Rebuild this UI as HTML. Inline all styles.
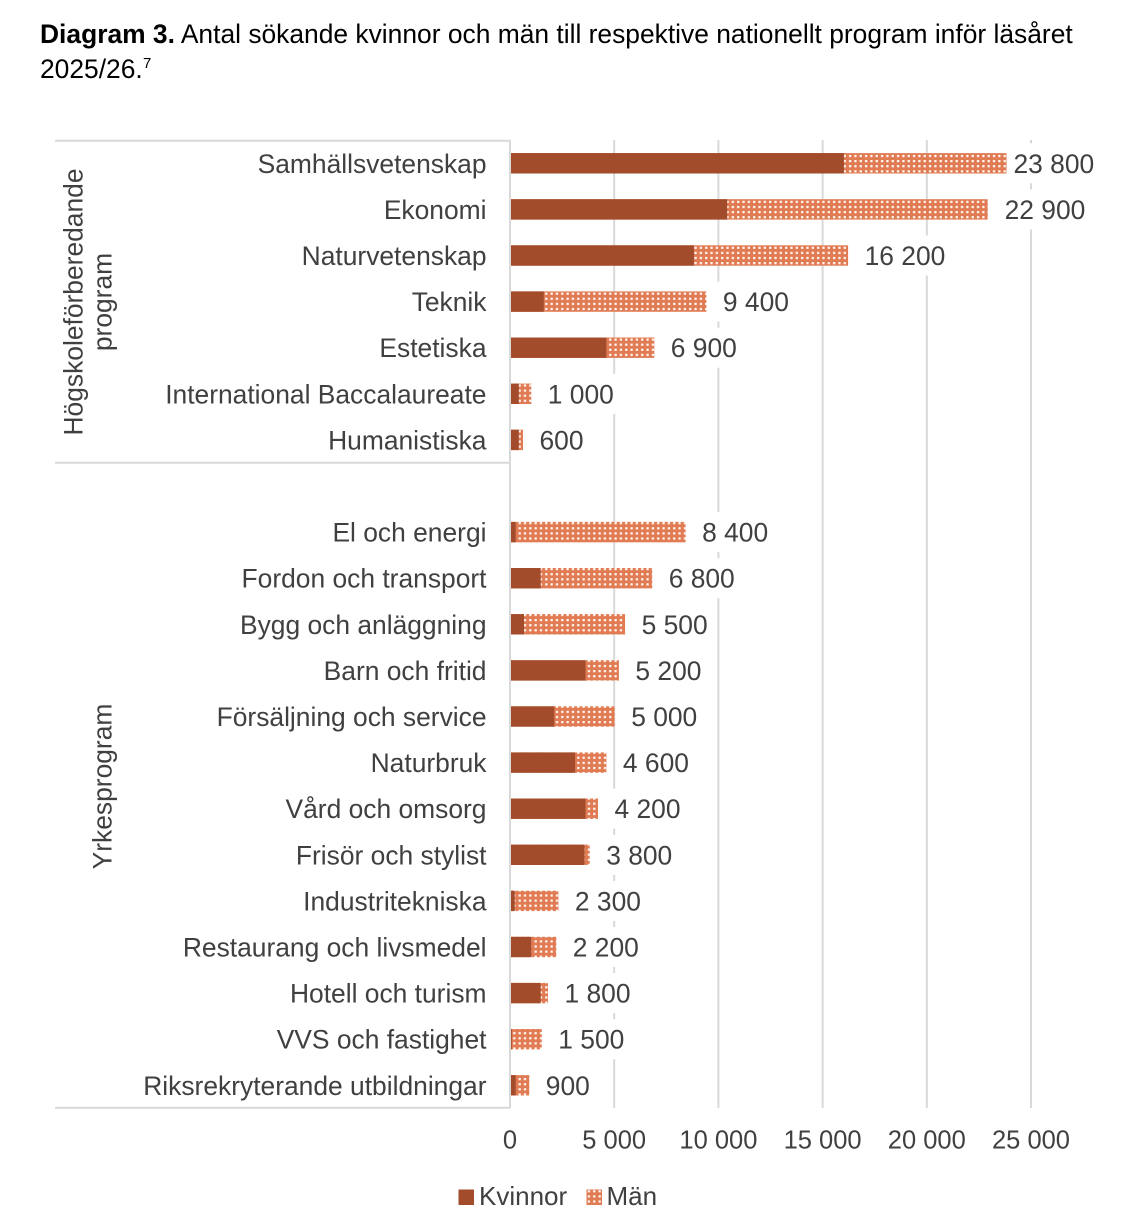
<!DOCTYPE html>
<html>
<head>
<meta charset="utf-8">
<style>
  html, body { margin: 0; padding: 0; background: #ffffff; }
  svg { display: block; }
  text { font-family: "Liberation Sans", Arial, sans-serif; }
</style>
</head>
<body>
<svg width="1126" height="1230" viewBox="0 0 1126 1230" xmlns="http://www.w3.org/2000/svg">
  <defs>
    <pattern id="man" patternUnits="userSpaceOnUse" x="0" y="0.5" width="5.33" height="5.1">
      <rect x="0" y="0" width="5.33" height="5.1" fill="#E07B54"/>
      <rect x="1.5" y="1.4" width="2.3" height="2.2" fill="#FFF6F0"/>
    </pattern>
  </defs>

  <rect x="0" y="0" width="1126" height="1230" fill="#ffffff"/>

  <!-- Title -->
  <text x="40" y="43" font-size="26.4" fill="#000"><tspan font-weight="bold">Diagram 3.</tspan> Antal sökande kvinnor och män till respektive nationellt program inför läsåret</text>
  <text x="40" y="78" font-size="26.4" fill="#000">2025/26.</text>
  <text x="143" y="68" font-size="15" fill="#000">7</text>

  <!-- Gridlines -->
  <g stroke="#D9D9D9" stroke-width="2">
    <line x1="614.2" y1="140" x2="614.2" y2="1108"/>
    <line x1="718.4" y1="140" x2="718.4" y2="1108"/>
    <line x1="822.6" y1="140" x2="822.6" y2="1108"/>
    <line x1="926.8" y1="140" x2="926.8" y2="1108"/>
    <line x1="1031" y1="140" x2="1031" y2="1108"/>
  </g>

  <!-- Category axis lines -->
  <g stroke="#D9D9D9" stroke-width="2">
    <line x1="55" y1="140.7" x2="510.5" y2="140.7"/>
    <line x1="55" y1="462.8" x2="510.5" y2="462.8"/>
    <line x1="55" y1="1107.7" x2="510.5" y2="1107.7"/>
    <line x1="510" y1="140" x2="510" y2="1108"/>
  </g>

  <!-- Label background boxes (hide gridlines) -->
  <g fill="#ffffff">
    <rect x="1006" y="143.3" width="95" height="40"/>
    <rect x="997.2" y="189.4" width="95" height="40"/>
    <rect x="857.6" y="235.5" width="95" height="40"/>
    <rect x="715.9" y="281.6" width="80" height="40"/>
    <rect x="663.8" y="327.7" width="80" height="40"/>
    <rect x="540.8" y="373.8" width="80" height="40"/>
    <rect x="532.5" y="419.9" width="58" height="40"/>
    <rect x="695.1" y="512.1" width="80" height="40"/>
    <rect x="661.7" y="558.2" width="80" height="40"/>
    <rect x="634.6" y="604.3" width="80" height="40"/>
    <rect x="628.4" y="650.4" width="80" height="40"/>
    <rect x="624.2" y="696.5" width="80" height="40"/>
    <rect x="615.9" y="742.6" width="80" height="40"/>
    <rect x="607.5" y="788.7" width="80" height="40"/>
    <rect x="599.2" y="834.8" width="80" height="40"/>
    <rect x="567.9" y="880.9" width="80" height="40"/>
    <rect x="565.8" y="927.0" width="80" height="40"/>
    <rect x="557.5" y="973.1" width="80" height="40"/>
    <rect x="551.3" y="1019.2" width="80" height="40"/>
    <rect x="538.8" y="1065.3" width="58" height="40"/>
  </g>

  <!-- Bars: Män (pattern) full length first, then Kvinnor on top -->
  <g fill="url(#man)">
    <rect x="511" y="153.1" width="495.5" height="20.4"/>
    <rect x="511" y="199.2" width="476.7" height="20.4"/>
    <rect x="511" y="245.3" width="337.1" height="20.4"/>
    <rect x="511" y="291.4" width="195.4" height="20.4"/>
    <rect x="511" y="337.5" width="143.3" height="20.4"/>
    <rect x="511" y="383.6" width="20.3" height="20.4"/>
    <rect x="511" y="429.7" width="12.0" height="20.4"/>
    <rect x="511" y="521.9" width="174.6" height="20.4"/>
    <rect x="511" y="568.0" width="141.2" height="20.4"/>
    <rect x="511" y="614.1" width="114.1" height="20.4"/>
    <rect x="511" y="660.2" width="107.9" height="20.4"/>
    <rect x="511" y="706.3" width="103.7" height="20.4"/>
    <rect x="511" y="752.4" width="95.4" height="20.4"/>
    <rect x="511" y="798.5" width="87.0" height="20.4"/>
    <rect x="511" y="844.6" width="78.7" height="20.4"/>
    <rect x="511" y="890.7" width="47.4" height="20.4"/>
    <rect x="511" y="936.8" width="45.3" height="20.4"/>
    <rect x="511" y="982.9" width="37.0" height="20.4"/>
    <rect x="511" y="1029.0" width="30.8" height="20.4"/>
    <rect x="511" y="1075.1" width="18.3" height="20.4"/>
  </g>
  <g fill="#A34C2B">
    <rect x="511" y="153.1" width="332.9" height="20.4"/>
    <rect x="511" y="199.2" width="216.2" height="20.4"/>
    <rect x="511" y="245.3" width="182.9" height="20.4"/>
    <rect x="511" y="291.4" width="32.8" height="20.4"/>
    <rect x="511" y="337.5" width="95.4" height="20.4"/>
    <rect x="511" y="383.6" width="7.8" height="20.4"/>
    <rect x="511" y="429.7" width="7.8" height="20.4"/>
    <rect x="511" y="521.9" width="4.7" height="20.4"/>
    <rect x="511" y="568.0" width="29.7" height="20.4"/>
    <rect x="511" y="614.1" width="13.0" height="20.4"/>
    <rect x="511" y="660.2" width="74.5" height="20.4"/>
    <rect x="511" y="706.3" width="43.3" height="20.4"/>
    <rect x="511" y="752.4" width="64.1" height="20.4"/>
    <rect x="511" y="798.5" width="74.5" height="20.4"/>
    <rect x="511" y="844.6" width="73.5" height="20.4"/>
    <rect x="511" y="890.7" width="3.7" height="20.4"/>
    <rect x="511" y="936.8" width="20.3" height="20.4"/>
    <rect x="511" y="982.9" width="29.7" height="20.4"/>
    <rect x="511" y="1029.0" width="0.8" height="20.4"/>
    <rect x="511" y="1075.1" width="4.7" height="20.4"/>
  </g>

  <!-- Category labels -->
  <g font-size="26.4" fill="#404040" text-anchor="end">
    <text x="486.5" y="172.8">Samhällsvetenskap</text>
    <text x="486.5" y="218.9">Ekonomi</text>
    <text x="486.5" y="265.0">Naturvetenskap</text>
    <text x="486.5" y="311.1">Teknik</text>
    <text x="486.5" y="357.2">Estetiska</text>
    <text x="486.5" y="403.3">International Baccalaureate</text>
    <text x="486.5" y="449.4">Humanistiska</text>
    <text x="486.5" y="541.6">El och energi</text>
    <text x="486.5" y="587.7">Fordon och transport</text>
    <text x="486.5" y="633.8">Bygg och anläggning</text>
    <text x="486.5" y="679.9">Barn och fritid</text>
    <text x="486.5" y="726.0">Försäljning och service</text>
    <text x="486.5" y="772.1">Naturbruk</text>
    <text x="486.5" y="818.2">Vård och omsorg</text>
    <text x="486.5" y="864.3">Frisör och stylist</text>
    <text x="486.5" y="910.4">Industritekniska</text>
    <text x="486.5" y="956.5">Restaurang och livsmedel</text>
    <text x="486.5" y="1002.6">Hotell och turism</text>
    <text x="486.5" y="1048.7">VVS och fastighet</text>
    <text x="486.5" y="1094.8">Riksrekryterande utbildningar</text>
  </g>

  <!-- Group labels (rotated) -->
  <g font-size="26.4" fill="#404040" text-anchor="middle">
    <text transform="translate(82.7,302) rotate(-90)">Högskoleförberedande</text>
    <text transform="translate(111.7,302) rotate(-90)">program</text>
    <text transform="translate(111.7,786.5) rotate(-90)">Yrkesprogram</text>
  </g>

  <!-- Data labels -->
  <g font-size="26.4" fill="#404040">
    <text x="1013.5" y="172.8">23 800</text>
    <text x="1004.6" y="218.9">22 900</text>
    <text x="864.6" y="265.0">16 200</text>
    <text x="722.9" y="311.1">9 400</text>
    <text x="670.8" y="357.2">6 900</text>
    <text x="547.8" y="403.3">1 000</text>
    <text x="539.5" y="449.4">600</text>
    <text x="702.1" y="541.6">8 400</text>
    <text x="668.7" y="587.7">6 800</text>
    <text x="641.6" y="633.8">5 500</text>
    <text x="635.4" y="679.9">5 200</text>
    <text x="631.2" y="726.0">5 000</text>
    <text x="622.9" y="772.1">4 600</text>
    <text x="614.5" y="818.2">4 200</text>
    <text x="606.2" y="864.3">3 800</text>
    <text x="574.9" y="910.4">2 300</text>
    <text x="572.8" y="956.5">2 200</text>
    <text x="564.5" y="1002.6">1 800</text>
    <text x="558.3" y="1048.7">1 500</text>
    <text x="545.8" y="1094.8">900</text>
  </g>

  <!-- X tick labels -->
  <g font-size="25.5" fill="#404040" text-anchor="middle">
    <text x="510" y="1148.5">0</text>
    <text x="614.2" y="1148.5">5 000</text>
    <text x="718.4" y="1148.5">10 000</text>
    <text x="822.6" y="1148.5">15 000</text>
    <text x="926.8" y="1148.5">20 000</text>
    <text x="1031" y="1148.5">25 000</text>
  </g>

  <!-- Legend -->
  <rect x="458.5" y="1189.5" width="15.5" height="15.5" fill="#A34C2B"/>
  <text x="479" y="1205" font-size="26" fill="#404040">Kvinnor</text>
  <rect x="586.5" y="1189.5" width="15.5" height="15.5" fill="url(#man)"/>
  <text x="606.5" y="1205" font-size="26" fill="#404040">Män</text>
</svg>
</body>
</html>
